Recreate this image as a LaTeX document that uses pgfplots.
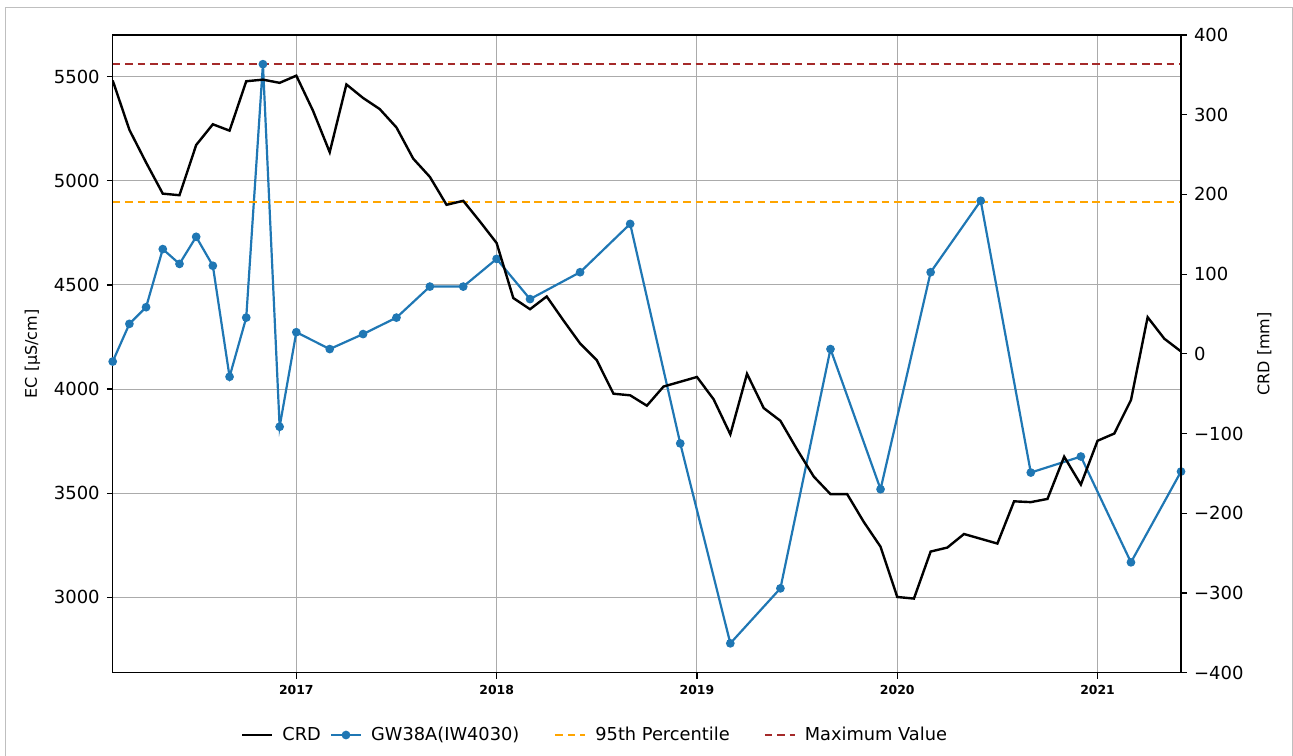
\documentclass[border=0pt]{standalone}
\usepackage{fontspec}
\setmainfont{DejaVu Sans}
\usepackage{pgfplots}
\usepackage{pgfplotstable}
\pgfplotsset{compat=1.18}
\definecolor{gwblue}{HTML}{1F77B4}
\definecolor{pctorange}{HTML}{FFA500}
\definecolor{maxred}{HTML}{A52A2A}
\definecolor{gridgray}{HTML}{ABABAB}

\pgfplotstableread{
x crd
2016.0833 343
2016.1667 281
2016.2500 240
2016.3333 201
2016.4167 199
2016.5000 262
2016.5833 288
2016.6667 280
2016.7500 342
2016.8333 344
2016.9167 340
2017.0000 349
2017.0833 305
2017.1667 253
2017.2500 338
2017.3333 321
2017.4167 307
2017.5000 284
2017.5833 245
2017.6667 222
2017.7500 187
2017.8333 192
2017.9167 166
2018.0000 139
2018.0833 70
2018.1667 56
2018.2500 72
2018.3333 42
2018.4167 13
2018.5000 -8
2018.5833 -50
2018.6667 -52
2018.7500 -65
2018.8333 -41
2018.9167 -35
2019.0000 -29
2019.0833 -57
2019.1667 -101
2019.2500 -25
2019.3333 -68
2019.4167 -84
2019.5000 -120
2019.5833 -154
2019.6667 -176
2019.7500 -176
2019.8333 -211
2019.9167 -242
2020.0000 -305
2020.0833 -307
2020.1667 -248
2020.2500 -243
2020.3333 -226
2020.4167 -232
2020.5000 -238
2020.5833 -185
2020.6667 -186
2020.7500 -182
2020.8333 -129
2020.9167 -164
2021.0000 -109
2021.0833 -100
2021.1667 -58
2021.2500 46
2021.3333 19
2021.4167 3
}\crdtable

\pgfplotstableread{
x ec
2016.0833 4132
2016.1667 4313
2016.2500 4393
2016.3333 4672
2016.4167 4601
2016.5000 4731
2016.5833 4592
2016.6667 4059
2016.7500 4343
2016.8333 5560
2016.9167 3819
2017.0000 4273
2017.1667 4192
2017.3333 4264
2017.5000 4343
2017.6667 4492
2017.8333 4492
2018.0000 4625
2018.1667 4432
2018.4167 4561
2018.6667 4793
2018.9167 3739
2019.1667 2779
2019.4167 3043
2019.6667 4192
2019.9167 3519
2020.1667 4561
2020.4167 4904
2020.6667 3599
2020.9167 3676
2021.1667 3168
2021.4167 3604
}\ectable

\pgfplotstableread{
x v
2016.0833 4900
2021.4167 4900
}\pcttable

\pgfplotstableread{
x v
2016.0833 5561
2021.4167 5561
}\maxtable

\begin{document}
\begin{tikzpicture}[x=1pt,y=1pt]
\useasboundingbox (0,0) rectangle (646.5,-377.5);
\draw[color=black!25, line width=0.5pt] (2.5,-3.5) rectangle (646,-390);
\begin{axis}[
  at={(56.35pt,-336.35pt)}, anchor=south west,
  scale only axis, width=534.15pt, height=318.85pt,
  xmin=2016.0833, xmax=2021.4167, ymin=2638, ymax=5700,
  xtick={2017,2018,2019,2020,2021},
  xticklabels={2017,2018,2019,2020,2021},
  ytick={3000,3500,4000,4500,5000,5500},
  yticklabels={3000,3500,4000,4500,5000,5500},
  xtick pos=bottom, ytick pos=left,
  tick align=outside, major tick length=3pt,
  tick style={black, line width=0.6pt},
  axis line style={black, line width=0.7pt},
  grid=major, grid style={gridgray, line width=0.55pt},
  xticklabel style={font=\bfseries\fontsize{6.2}{7}\selectfont},
  yticklabel style={font=\fontsize{9}{10}\selectfont},
  ylabel={EC [µS/cm]},
  ylabel style={font=\fontsize{8}{9}\selectfont},
]
\addplot[gwblue, line width=1.1pt, mark=*, mark size=1.6pt] table[x=x,y=ec] {\ectable};
\addplot[pctorange, line width=1pt, dash pattern=on 3.8pt off 2.4pt] table[x=x,y=v] {\pcttable};
\addplot[maxred, line width=1pt, dash pattern=on 3.8pt off 2.4pt] table[x=x,y=v] {\maxtable};
\end{axis}
\begin{axis}[
  at={(56.35pt,-336.35pt)}, anchor=south west,
  scale only axis, width=534.15pt, height=318.85pt,
  xmin=2016.0833, xmax=2021.4167, ymin=-400, ymax=400,
  axis x line=none, axis y line*=right,
  ytick={-400,-300,-200,-100,0,100,200,300,400},
  yticklabels={−400,−300,−200,−100,0,100,200,300,400},
  tick align=outside, major tick length=3pt,
  tick style={black, line width=0.6pt},
  axis line style={black, line width=0.7pt},
  yticklabel style={font=\fontsize{9}{10}\selectfont},
  ylabel={CRD [mm]},
  ylabel style={font=\fontsize{8}{9}\selectfont},
  legend style={at={(axis description cs:0.4524,-0.0977)}, anchor=center,
    draw=none, fill=none, font=\fontsize{8.9}{10}\selectfont,
    /tikz/every even column/.append style={column sep=0pt}},
  legend columns=4,
  legend image code/.code={\draw[mark repeat=2,mark phase=2,#1] plot coordinates {(0pt,0pt) (7.5pt,0pt) (15pt,0pt)};},
]
\addplot[black, line width=1.2pt] table[x=x,y=crd] {\crdtable};
\addlegendentry{\mbox{}\hspace{2.5pt}CRD\hspace{2.5pt}\mbox{}}
\addlegendimage{gwblue, line width=1.1pt, mark=*, mark size=1.6pt}
\addlegendentry{\mbox{}\hspace{2.5pt}GW38A(IW4030)\hspace{15.5pt}\mbox{}}
\addlegendimage{pctorange, line width=1pt, dash pattern=on 3.8pt off 2.4pt}
\addlegendentry{\mbox{}\hspace{2.5pt}95th Percentile\hspace{15pt}\mbox{}}
\addlegendimage{maxred, line width=1pt, dash pattern=on 3.8pt off 2.4pt}
\addlegendentry{\mbox{}\hspace{2.5pt}Maximum Value}
\end{axis}
\end{tikzpicture}
\end{document}
